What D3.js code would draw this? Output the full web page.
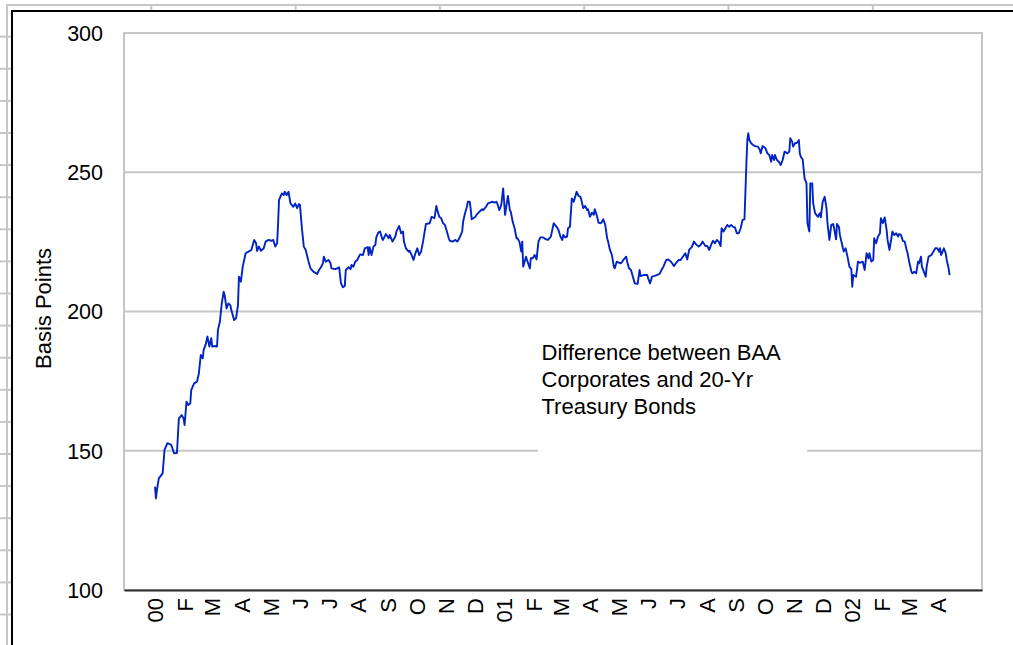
<!DOCTYPE html>
<html>
<head>
<meta charset="utf-8">
<script src="https://cdn.jsdelivr.net/npm/d3@7"></script>
<style>
  body { margin: 0; background: #fff; }
  svg { display: block; font-family: Arial, "Liberation Sans", sans-serif; }
</style>
</head>
<body>
<svg id="chart" width="1013" height="645"></svg>
<script>
// series starts 1 Jan 2000 (basis points)
const seriesStart = Date.UTC(2000, 0, 1);

const dayOffsets = [
  0, 1, 2, 4, 8, 10, 13, 17, 20, 23,
  25, 28, 30, 31, 33, 35, 37, 38, 41, 44,
  46, 48, 50, 51, 53, 55, 57, 59, 60, 63,
  65, 66, 68, 70, 72, 73, 75, 77, 79, 80,
  83, 85, 87, 88, 90, 92, 95, 98, 101, 104,
  106, 107, 109, 111, 114, 116, 119, 122, 124, 126,
  128, 129, 130, 133, 135, 136, 138, 140, 142, 145,
  147, 149, 151, 152, 154, 156, 158, 161, 163, 166,
  170, 172, 174, 176, 177, 179, 182, 184, 185, 189,
  191, 193, 195, 197, 199, 200, 203, 205, 206, 208,
  210, 212, 215, 218, 220, 223, 224, 225, 227, 229,
  231, 232, 234, 236, 238, 239, 242, 245, 246, 249,
  252, 253, 256, 258, 260, 261, 263, 266, 267, 269,
  271, 273, 275, 277, 279, 281, 283, 284, 288, 290,
  293, 295, 296, 298, 300, 302, 304, 306, 308, 309,
  312, 315, 317, 319, 322, 323, 325, 327, 328, 330,
  331, 332, 336, 337, 340, 343, 344, 347, 349, 351,
  354, 356, 358, 359, 361, 363, 364, 365, 366, 367,
  369, 370, 372, 373, 375, 377, 379, 380, 382, 384,
  385, 386, 389, 390, 393, 394, 396, 398, 400, 402,
  404, 407, 410, 412, 415, 418, 421, 423, 425, 427,
  428, 430, 432, 433, 435, 437, 439, 440, 442, 444,
  446, 447, 449, 451, 453, 454, 456, 458, 460, 461,
  463, 465, 467, 468, 470, 472, 474, 475, 477, 479,
  481, 482, 484, 488, 489, 491, 494, 495, 497, 499,
  501, 503, 506, 508, 509, 512, 516, 517, 519, 521,
  523, 526, 529, 531, 533, 536, 538, 541, 544, 546,
  549, 551, 553, 556, 558, 560, 563, 565, 567, 570,
  572, 574, 577, 579, 581, 583, 585, 587, 589, 591,
  593, 594, 596, 598, 600, 602, 604, 606, 608, 610,
  612, 614, 616, 618, 620, 621, 622, 623, 625, 627,
  629, 632, 634, 635, 637, 640, 642, 644, 646, 647,
  649, 650, 652, 654, 656, 658, 660, 663, 665, 666,
  668, 669, 671, 673, 675, 676, 677, 679, 681, 683,
  684, 686, 687, 689, 690, 692, 695, 697, 698, 700,
  702, 704, 705, 707, 709, 711, 712, 714, 715, 717,
  718, 720, 722, 724, 726, 728, 730, 731, 732, 735,
  737, 739, 742, 744, 746, 748, 749, 751, 753, 754,
  756, 758, 760, 761, 763, 765, 767, 768, 770, 772,
  773, 775, 777, 779, 780, 782, 784, 786, 788, 789,
  791, 793, 794, 796, 798, 800, 801, 803, 804, 806,
  808, 809, 811, 814, 816, 818, 820, 822, 823, 824,
  825, 827, 829, 830, 832, 833
];

const spreadValues = [
  137.1, 132.9, 135.9, 140.1, 141.9, 150.3, 152.7, 152.1, 149.1, 149.2,
  161.6, 162.8, 161.6, 159.2, 167.6, 166.4, 167.0, 171.8, 174.2, 174.8,
  177.8, 184.4, 183.2, 186.2, 188.0, 191.0, 187.4, 190.4, 187.4, 187.6,
  187.4, 193.4, 196.3, 202.9, 207.1, 205.9, 201.1, 202.9, 202.3, 200.5,
  196.9, 197.6, 202.3, 212.5, 210.7, 216.1, 220.9, 221.5, 222.1, 225.7,
  224.5, 221.8, 223.3, 221.8, 222.7, 225.1, 225.7, 225.4, 225.7, 223.3,
  224.5, 231.1, 240.0, 242.4, 241.8, 243.0, 241.8, 243.0, 238.8, 237.6,
  238.8, 237.1, 238.6, 238.2, 229.9, 223.3, 222.1, 217.9, 215.5, 214.3,
  213.5, 214.9, 215.9, 217.3, 219.7, 217.9, 218.5, 217.3, 215.5, 215.2,
  215.5, 215.9, 210.1, 208.7, 209.2, 214.9, 215.9, 215.2, 216.7, 216.1,
  217.9, 218.5, 220.5, 220.3, 222.7, 223.1, 220.3, 223.1, 220.3, 223.3,
  223.9, 226.6, 228.3, 228.7, 226.3, 225.7, 227.8, 226.3, 227.5, 225.1,
  226.9, 228.7, 230.7, 228.1, 228.7, 225.1, 222.7, 221.5, 221.8, 220.3,
  218.5, 220.9, 222.7, 220.3, 221.5, 225.1, 229.3, 231.4, 231.7, 234.0,
  233.5, 237.9, 236.4, 234.0, 233.5, 231.7, 231.1, 228.7, 226.3, 225.4,
  225.1, 225.7, 225.1, 226.3, 228.7, 232.2, 235.3, 237.6, 239.4, 239.4,
  236.7, 233.1, 234.0, 234.7, 235.8, 236.7, 236.4, 237.6, 238.8, 239.1,
  239.4, 239.1, 239.4, 238.6, 236.4, 238.2, 241.2, 244.2, 239.4, 234.7,
  239.4, 241.5, 236.4, 235.8, 232.2, 229.9, 226.3, 226.3, 225.1, 221.5,
  225.1, 216.1, 219.7, 218.5, 215.5, 219.1, 219.1, 220.3, 218.7, 225.1,
  226.6, 226.6, 225.9, 225.7, 226.9, 231.7, 230.4, 229.3, 226.9, 225.7,
  227.5, 226.6, 226.9, 229.9, 230.4, 240.6, 239.4, 240.6, 243.0, 241.5,
  241.2, 240.0, 237.1, 237.9, 236.4, 236.7, 234.0, 235.5, 234.7, 236.7,
  234.7, 231.9, 231.7, 231.9, 233.1, 231.1, 226.3, 225.1, 222.1, 220.3,
  216.1, 215.5, 217.9, 217.3, 217.5, 218.5, 219.7, 217.9, 215.5, 214.9,
  212.5, 210.1, 209.9, 214.9, 212.7, 213.1, 213.1, 211.9, 210.1, 212.5,
  212.7, 213.1, 213.5, 214.9, 216.1, 218.5, 218.7, 217.9, 216.3, 217.3,
  218.5, 218.5, 219.5, 220.9, 218.7, 222.1, 223.3, 225.1, 224.2, 223.3,
  223.9, 225.1, 223.5, 223.5, 222.1, 223.9, 225.4, 224.5, 225.7, 225.1,
  223.5, 229.9, 228.7, 229.9, 231.1, 230.4, 231.1, 230.4, 230.2, 228.1,
  228.1, 229.9, 232.9, 233.1, 253.2, 261.6, 264.0, 261.6, 260.4, 259.8,
  259.4, 259.2, 258.2, 256.8, 259.4, 258.6, 256.8, 256.2, 253.8, 256.2,
  254.4, 256.2, 254.4, 253.8, 252.6, 254.4, 257.4, 256.8, 257.4, 262.2,
  261.0, 259.2, 260.4, 260.6, 261.6, 256.8, 255.6, 254.6, 247.8, 246.0,
  231.7, 228.7, 246.0, 246.0, 238.8, 235.3, 234.0, 235.3, 233.8, 239.4,
  241.2, 237.1, 231.7, 225.7, 231.1, 231.4, 229.9, 225.9, 231.4, 230.4,
  227.5, 224.5, 221.5, 222.7, 219.7, 216.1, 215.2, 208.9, 213.1, 212.5,
  217.9, 217.5, 217.9, 214.9, 220.9, 219.1, 220.9, 217.9, 218.5, 226.3,
  224.5, 226.9, 228.1, 233.5, 231.7, 233.8, 229.3, 225.7, 222.1, 226.3,
  228.7, 227.5, 228.1, 226.9, 227.8, 227.5, 225.4, 225.1, 222.1, 220.9,
  217.3, 214.3, 213.7, 214.3, 213.7, 217.9, 217.3, 219.7, 216.1, 214.3,
  212.5, 216.1, 219.7, 220.3, 221.5, 222.7, 222.7, 221.5, 222.7, 220.3,
  220.9, 222.7, 220.9, 218.5, 215.5, 213.1
];

const monthTickLabels = [
  "00", "F", "M", "A", "M", "J", "J", "A", "S", "O", "N", "D",
  "01", "F", "M", "A", "M", "J", "J", "A", "S", "O", "N", "D",
  "02", "F", "M", "A"
];
const yTicks = [100, 150, 200, 250, 300];
const yTitle = "Basis Points";
const noteLines = ["Difference between BAA", "Corporates and 20-Yr", "Treasury Bonds"];

const data = dayOffsets.map((d, i) => ({
  date: d3.utcDay.offset(new Date(seriesStart), d),
  value: spreadValues[i],
}));

const svg = d3.select("#chart");
const W = 1013, H = 645;
const plot = { left: 124, top: 33, right: 982, bottom: 590 };
const gridGrey = "#c6c6c6";
const fontSize = 22;

// spreadsheet cells peeking out behind the chart object
const sheet = svg.append("g").attr("stroke", gridGrey).attr("stroke-width", 2);
sheet.append("line").attr("x1", 6).attr("x2", W).attr("y1", 5).attr("y2", 5);
sheet.append("line").attr("x1", 7).attr("x2", 7).attr("y1", 5).attr("y2", H);
sheet.selectAll(".col").data(d3.range(1, 7)).join("line")
  .attr("x1", (k) => 7 + k * 144.3).attr("x2", (k) => 7 + k * 144.3)
  .attr("y1", 5).attr("y2", 11);
sheet.selectAll(".row").data(d3.range(0, 19)).join("line")
  .attr("x1", 0).attr("x2", 12)
  .attr("y1", (k) => 36.7 + k * 32.1).attr("y2", (k) => 36.7 + k * 32.1);

// chart area
svg.append("rect")
  .attr("x", 12).attr("y", 11).attr("width", W + 20).attr("height", H + 20)
  .attr("fill", "#fff").attr("stroke", "#000").attr("stroke-width", 2);

const x = d3.scaleUtc()
  .domain([d3.utcHour.offset(new Date(seriesStart), -32.5 * 24), d3.utcDay.offset(new Date(Date.UTC(2002, 0, 1)), 136)])
  .range([plot.left, plot.right]);

const y = d3.scaleLinear()
  .domain([100, 300])
  .range([plot.bottom, plot.top]);

// gridlines
svg.append("g")
  .selectAll("line")
  .data(yTicks)
  .join("line")
  .attr("x1", plot.left).attr("x2", plot.right)
  .attr("y1", (d) => y(d)).attr("y2", (d) => y(d))
  .attr("stroke", gridGrey).attr("stroke-width", 2);

svg.append("rect")
  .attr("x", plot.left).attr("y", plot.top)
  .attr("width", plot.right - plot.left).attr("height", plot.bottom - plot.top)
  .attr("fill", "none").attr("stroke", gridGrey).attr("stroke-width", 2);

// text box (white, covers the gridline)
svg.append("rect")
  .attr("x", 538).attr("y", 333).attr("width", 269).attr("height", 122)
  .attr("fill", "#fff");

svg.append("text")
  .attr("x", 541.5).attr("y", 359.5)
  .attr("font-size", fontSize).attr("fill", "#000")
  .selectAll("tspan")
  .data(noteLines)
  .join("tspan")
  .attr("x", 541.5)
  .attr("dy", (_, i) => (i === 0 ? 0 : 27))
  .text((d) => d);

// line
const line = d3.line()
  .x((d) => x(d.date))
  .y((d) => y(d.value));

svg.append("path")
  .datum(data)
  .attr("d", line)
  .attr("fill", "none")
  .attr("stroke", "#0024c4")
  .attr("stroke-width", 1.9)
  .attr("stroke-linejoin", "round");

// x axis
const months = d3.utcMonth.range(new Date(Date.UTC(2000, 0, 1)), new Date(Date.UTC(2002, 3, 2)));
const xAxis = svg.append("g")
  .attr("transform", `translate(0,${plot.bottom})`)
  .call(
    d3.axisBottom(x)
      .tickValues(months)
      .tickSize(0)
      .tickSizeOuter(0)
      .tickFormat((_, i) => monthTickLabels[i])
  );
xAxis.select(".domain").attr("stroke", "#2b2b2b").attr("stroke-width", 2);
xAxis.selectAll("text")
  .attr("font-size", fontSize)
  .attr("font-family", "Arial, 'Liberation Sans', sans-serif")
  .attr("fill", "#000")
  .attr("transform", "rotate(-90)")
  .attr("text-anchor", "end")
  .attr("x", -8)
  .attr("y", 0)
  .attr("dy", "0.35em");

// y axis
const yAxis = svg.append("g")
  .attr("transform", `translate(${plot.left},0)`)
  .call(d3.axisLeft(y).tickValues(yTicks).tickSize(0).tickPadding(21));
yAxis.select(".domain").remove();
yAxis.selectAll("text")
  .attr("font-size", 21.5)
  .attr("font-family", "Arial, 'Liberation Sans', sans-serif")
  .attr("fill", "#000")
  .attr("dy", "0.34em");

svg.append("text")
  .attr("transform", `translate(50.5,${(plot.top + plot.bottom) / 2 - 3}) rotate(-90)`)
  .attr("text-anchor", "middle")
  .attr("font-size", fontSize)
  .attr("fill", "#000")
  .text(yTitle);
</script>
</body>
</html>
